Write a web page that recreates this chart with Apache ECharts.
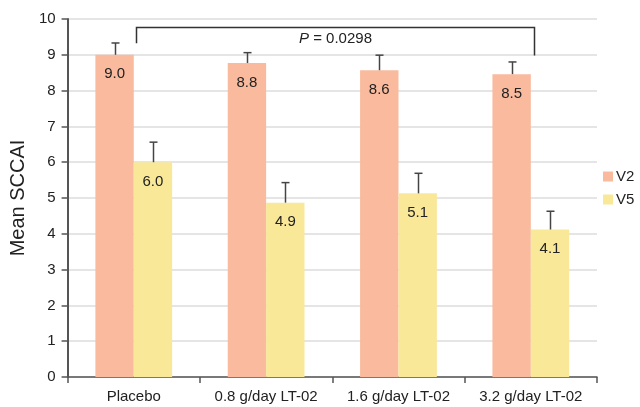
<!DOCTYPE html>
<html>
<head>
<meta charset="utf-8">
<script src="https://cdn.jsdelivr.net/npm/echarts@6/dist/echarts.min.js"></script>
<style>
  html, body { margin: 0; padding: 0; background: #fff; }
  #chart { width: 640px; height: 407px; }
</style>
</head>
<body>
<div id="chart"></div>
<script>
// data
var categories = ['Placebo', '0.8 g/day LT-02', '1.6 g/day LT-02', '3.2 g/day LT-02'];
var v2Values = [9.0, 8.77, 8.57, 8.46];
var v5Values = [6.0, 4.87, 5.13, 4.12];
var v2Labels = ['9.0', '8.8', '8.6', '8.5'];
var v5Labels = ['6.0', '4.9', '5.1', '4.1'];
// top of error bar (mean + SD)
var v2ErrTop = [9.33, 9.06, 8.99, 8.8];
var v5ErrTop = [6.56, 5.43, 5.69, 4.63];
// bracket: [from cat, to cat, top, left leg end, right leg end]
var bracket = [[0, 3, 9.78, 9.32, 8.98]];
var pText = '0.0298';

var FONT = 'Liberation Sans, Arial, sans-serif';
var GAP = 0.42;

var chart = echarts.init(document.getElementById('chart'));

function errSeries(name, vals, tops, side) {
    var d = [];
    for (var i = 0; i < vals.length; i++) d.push([i, vals[i], tops[i]]);
    return {
        name: name + ' err',
        type: 'custom',
        z: 5,
        data: d,
        renderItem: function (params, api) {
            var band = api.size([1, 0])[0];
            var bw = band * (1 - GAP) / 2;
            var base = api.coord([api.value(0), api.value(1)]);
            var top = api.coord([api.value(0), api.value(2)]);
            var x = Math.round(base[0] + side * bw / 2) + 0.5;
            var st = { stroke: '#444', lineWidth: 1.5 };
            return {
                type: 'group',
                children: [
                    { type: 'line', shape: { x1: x, y1: base[1], x2: x, y2: top[1] }, style: st },
                    { type: 'line', shape: { x1: x - 4, y1: top[1], x2: x + 4, y2: top[1] }, style: st }
                ]
            };
        }
    };
}

var option = {
    animation: false,
    textStyle: { fontFamily: FONT },
    grid: { left: 65, right: 43, top: 19, bottom: 30 },
    legend: {
        data: ['V2', 'V5'],
        orient: 'vertical',
        left: 598,
        top: 164,
        itemWidth: 10,
        itemHeight: 10,
        itemGap: 8,
        icon: 'rect',
        textStyle: { fontSize: 15, color: '#222', fontFamily: FONT, padding: [0, 0, 0, -2] }
    },
    xAxis: {
        type: 'category',
        data: categories,
        axisLine: { lineStyle: { color: '#555', width: 1.5 } },
        axisTick: { show: true, interval: 0, length: 6, lineStyle: { color: '#555', width: 1.5 } },
        axisLabel: { interval: 0, fontSize: 15, color: '#222', margin: 12, fontFamily: FONT }
    },
    yAxis: {
        type: 'value',
        min: 0,
        max: 10,
        interval: 1,
        name: 'Mean SCCAI',
        nameLocation: 'middle',
        nameGap: 38,
        nameTextStyle: { fontSize: 20, color: '#222', fontFamily: FONT },
        axisLine: { show: true, lineStyle: { color: '#555', width: 2 } },
        axisTick: { show: true, length: 6, lineStyle: { color: '#555', width: 1.5 } },
        axisLabel: { fontSize: 15, color: '#222', margin: 12, fontFamily: FONT },
        splitLine: { lineStyle: { color: '#ddd', width: 1.5 } }
    },
    series: [
        {
            name: 'V2',
            type: 'bar',
            data: v2Values,
            barGap: '0%',
            barCategoryGap: (GAP * 100) + '%',
            itemStyle: { color: '#F9BA9E' },
            label: {
                show: true,
                position: 'insideTop',
                distance: 12,
                fontSize: 15,
                color: '#222',
                fontFamily: FONT,
                formatter: function (p) { return v2Labels[p.dataIndex]; }
            }
        },
        {
            name: 'V5',
            type: 'bar',
            data: v5Values,
            barGap: '0%',
            barCategoryGap: (GAP * 100) + '%',
            itemStyle: { color: '#F8E898' },
            label: {
                show: true,
                position: 'insideTop',
                distance: 12,
                fontSize: 15,
                color: '#222',
                fontFamily: FONT,
                formatter: function (p) { return v5Labels[p.dataIndex]; }
            }
        },
        errSeries('V2', v2Values, v2ErrTop, -1),
        errSeries('V5', v5Values, v5ErrTop, 1),
        {
            name: 'bracket',
            type: 'custom',
            z: 6,
            data: bracket,
            renderItem: function (params, api) {
                var a = api.coord([api.value(0), api.value(2)]);
                var b = api.coord([api.value(1), api.value(2)]);
                var la = api.coord([api.value(0), api.value(3)]);
                var rb = api.coord([api.value(1), api.value(4)]);
                var x1 = Math.round(a[0]) + 2.5, x2 = Math.round(b[0]) + 3.5, y = Math.round(a[1]) + 0.5;
                return {
                    type: 'group',
                    children: [
                        {
                            type: 'polyline',
                            shape: { points: [[x1, la[1]], [x1, y], [x2, y], [x2, rb[1]]] },
                            style: { stroke: '#333', lineWidth: 1.5, fill: null }
                        },
                        {
                            type: 'text',
                            x: (x1 + x2) / 2,
                            y: y + 4,
                            style: {
                                text: '{i|P} = ' + pText,
                                align: 'center',
                                verticalAlign: 'top',
                                fontSize: 15,
                                fontFamily: FONT,
                                fill: '#222',
                                rich: { i: { fontStyle: 'italic', fontSize: 15, fontFamily: FONT, fill: '#222' } }
                            }
                        }
                    ]
                };
            }
        }
    ]
};

chart.setOption(option);
</script>
</body>
</html>
